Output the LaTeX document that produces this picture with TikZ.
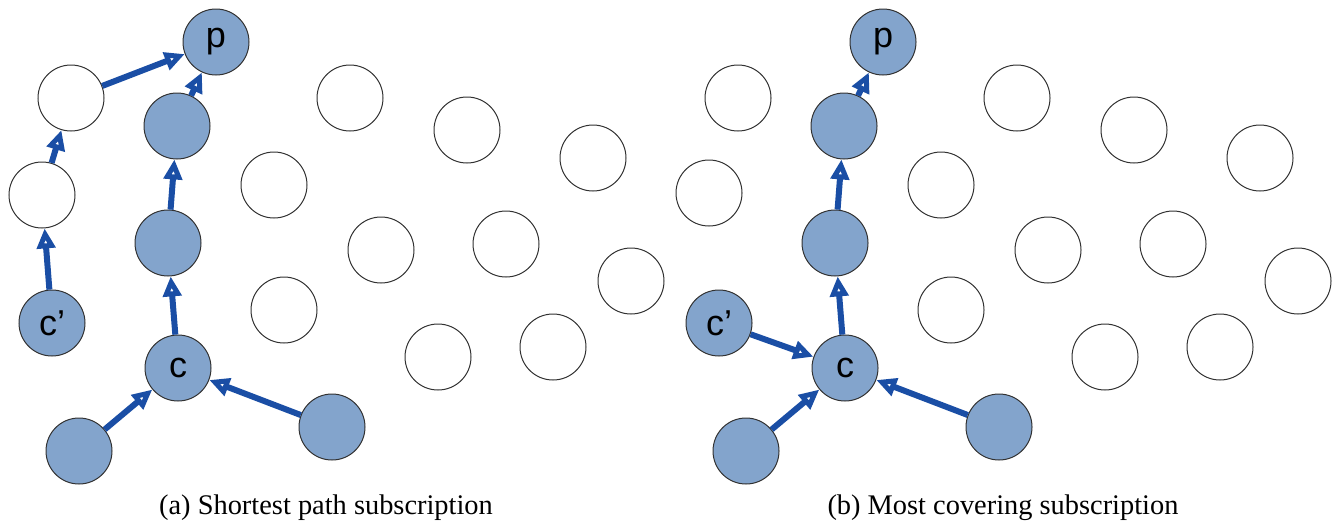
\documentclass[tikz,border=0pt]{standalone}
\usepackage{fontspec}
\setmainfont{Liberation Serif}
\setsansfont{Liberation Sans}
\usetikzlibrary{arrows.meta}
\definecolor{nodeblue}{RGB}{131,164,204}
\definecolor{arrowblue}{RGB}{26,78,165}
\definecolor{rimgray}{RGB}{50,50,50}

\begin{document}
\begin{tikzpicture}[x=0.5pt, y=-0.5pt,
  peer/.style={circle, draw=rimgray, line width=0.5pt, minimum size=33pt, inner sep=0pt, font=\sffamily\fontsize{18}{18}\selectfont},
  sub/.style={peer, fill=nodeblue},
  free/.style={peer, fill=white},
  route/.style={draw=arrowblue, line width=3pt, -{Triangle[open, line width=2.6pt, length=10pt, width=9pt]}},
  caption/.style={font=\fontsize{14.2}{14.2}\selectfont}]
\useasboundingbox (0,0) rectangle (1337,525);

% (a) shortest path
\node[sub] (pa) at (216,42) {p};
\node[free] (ua) at (71,98) {};
\node[free] (va) at (42,195) {};
\node[sub] (cpa) at (52,323) {c'};
\node[sub] (f1a) at (177,126) {};
\node[sub] (f2a) at (168,243) {};
\node[sub] (ca) at (178,368) {c};
\node[sub] (la) at (79,451) {};
\node[sub] (ra) at (332,427) {};
\foreach \x/\y [count=\i] in {350/98, 274/185, 467/130, 593/158, 381/250, 506/244, 284/310, 631/281, 438/357, 553/347}
  \node[free] (wa\i) at (\x,\y) {};

\draw[route] (cpa) -- (va);
\draw[route] (va) -- (ua);
\draw[route] (ua) -- (pa);
\draw[route] (ca) -- (f2a);
\draw[route] (f2a) -- (f1a);
\draw[route] (f1a) -- (pa);
\draw[route] (la) -- (ca);
\draw[route] (ra) -- (ca);

\node[caption] (capa) at (326,508) {(a) Shortest path subscription};

% (b) most covering
\node[sub] (pb) at (883,42) {p};
\node[free] (ub) at (738,98) {};
\node[free] (vb) at (709,193) {};
\node[sub] (cpb) at (719,323) {c'};
\node[sub] (f1b) at (844,126) {};
\node[sub] (f2b) at (835,243) {};
\node[sub] (cb) at (845,368) {c};
\node[sub] (lb) at (746,451) {};
\node[sub] (rb) at (999,427) {};
\foreach \x/\y [count=\i] in {1017/98, 941/185, 1134/130, 1260/158, 1048/250, 1173/244, 951/310, 1298/281, 1105/357, 1220/347}
  \node[free] (wb\i) at (\x,\y) {};

\draw[route] (cpb) -- (cb);
\draw[route] (cb) -- (f2b);
\draw[route] (f2b) -- (f1b);
\draw[route] (f1b) -- (pb);
\draw[route] (lb) -- (cb);
\draw[route] (rb) -- (cb);

\node[caption] (capb) at (1003,508) {(b) Most covering subscription};
\end{tikzpicture}
\end{document}
